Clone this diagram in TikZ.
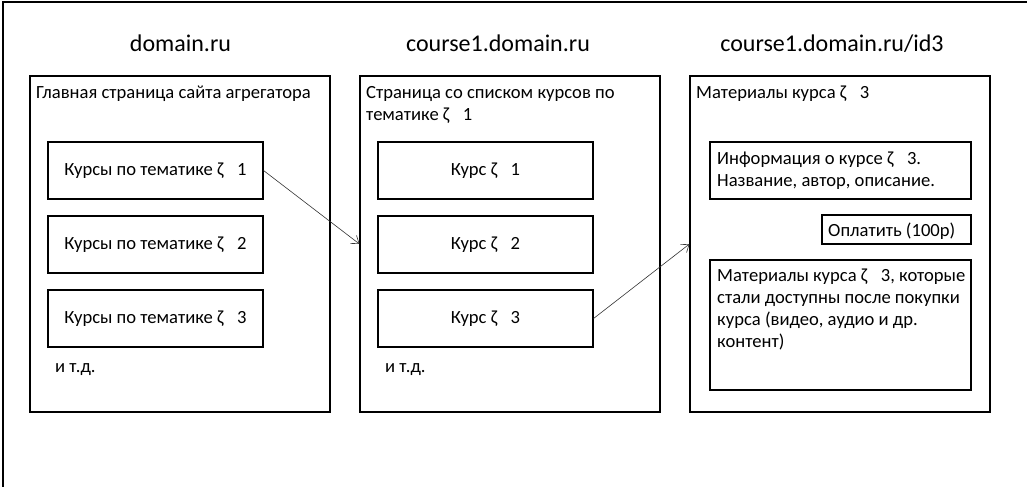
\documentclass[tikz,border=0pt]{standalone}
\usepackage{fontspec}
\setmainfont{Carlito}
\usetikzlibrary{arrows.meta}
\newcommand\zg{\hspace{13.5pt}}
\newcommand\bodyfont{\fontsize{18.6pt}{22pt}\selectfont}
\newcommand\titlefont{\fontsize{24pt}{28pt}\selectfont}
\begin{document}
\begin{tikzpicture}[x=1pt,y=-1pt,
  panel/.style={draw, line width=1.1pt, minimum width=300pt, minimum height=336pt, inner sep=0pt},
  item/.style={draw, line width=1.1pt, minimum width=215pt, minimum height=57pt, inner sep=0pt,
    font=\bodyfont, text height=12pt, text depth=1.6pt},
  plainbox/.style={draw, line width=1.1pt, inner sep=0pt},
  lbl/.style={inner sep=0pt, font=\bodyfont, align=left, anchor=base west},
  ttl/.style={inner sep=0pt, font=\titlefont, anchor=base},
  link/.style={draw=black!80, line width=0.6pt, -{Straight Barb[length=7pt,width=10pt]}},
  outer/.style={draw, line width=1.1pt}]
\useasboundingbox (0,0) rectangle (1027,487);
% outer frame
\coordinate (fr1) at (1027,2);
\coordinate (fr2) at (3,2);
\coordinate (fr3) at (3,487);
\draw[outer] (fr1) -- (fr2) -- (fr3);
% titles
\node[ttl] (t1) at (180.5,51.7) {domain.ru};
\node[ttl] (t2) at (498,51.7) {course1.domain.ru};
\node[ttl] (t3) at (832,51.7) {course1.domain.ru/id3};
% panels
\node[panel] (p1) at (180,244) {};
\node[panel] (p2) at (510,244) {};
\node[panel] (p3) at (840,244) {};
\node[lbl] (l1) at (36,98) {Главная страница сайта агрегатора};
\node[lbl] (l2) at (366,120) {Страница со списком курсов по\\тематике ζ\zg1};
\node[lbl] (l3) at (696,98) {Материалы курса ζ\zg3};
% panel 1 items
\node[item] (a1) at (155.5,170.5) {Курсы по тематике ζ\zg1};
\node[item] (a2) at (155.5,244.5) {Курсы по тематике ζ\zg2};
\node[item] (a3) at (155.5,318.5) {Курсы по тематике ζ\zg3};
\node[lbl] (e1) at (55,372) {и т.д.};
% panel 2 items
\node[item] (b1) at (485.5,170.5) {Курс ζ\zg1};
\node[item] (b2) at (485.5,244.5) {Курс ζ\zg2};
\node[item] (b3) at (485.5,318.5) {Курс ζ\zg3};
\node[lbl] (e2) at (385,372) {и т.д.};
% panel 3 boxes
\node[plainbox, minimum width=261pt, minimum height=57pt] (info) at (840.5,170.5) {};
\node[lbl] (infot) at (717,186) {Информация о курсе ζ\zg3.\\Название, автор, описание.};
\node[plainbox, minimum width=149pt, minimum height=29pt] (pay) at (896.5,229.5) {};
\node[lbl] (payt) at (828,236.7) {Оплатить (100р)};
\node[plainbox, minimum width=261pt, minimum height=130pt] (mat) at (840.5,325) {};
\node[lbl] (matt) at (717,347) {Материалы курса ζ\zg3, которые\\стали доступны после покупки\\курса (видео, аудио и др.\\контент)};
% links
\draw[link] (a1.east) -- (p2.west);
\draw[link] (b3.east) -- (p3.west);
\end{tikzpicture}
\end{document}
